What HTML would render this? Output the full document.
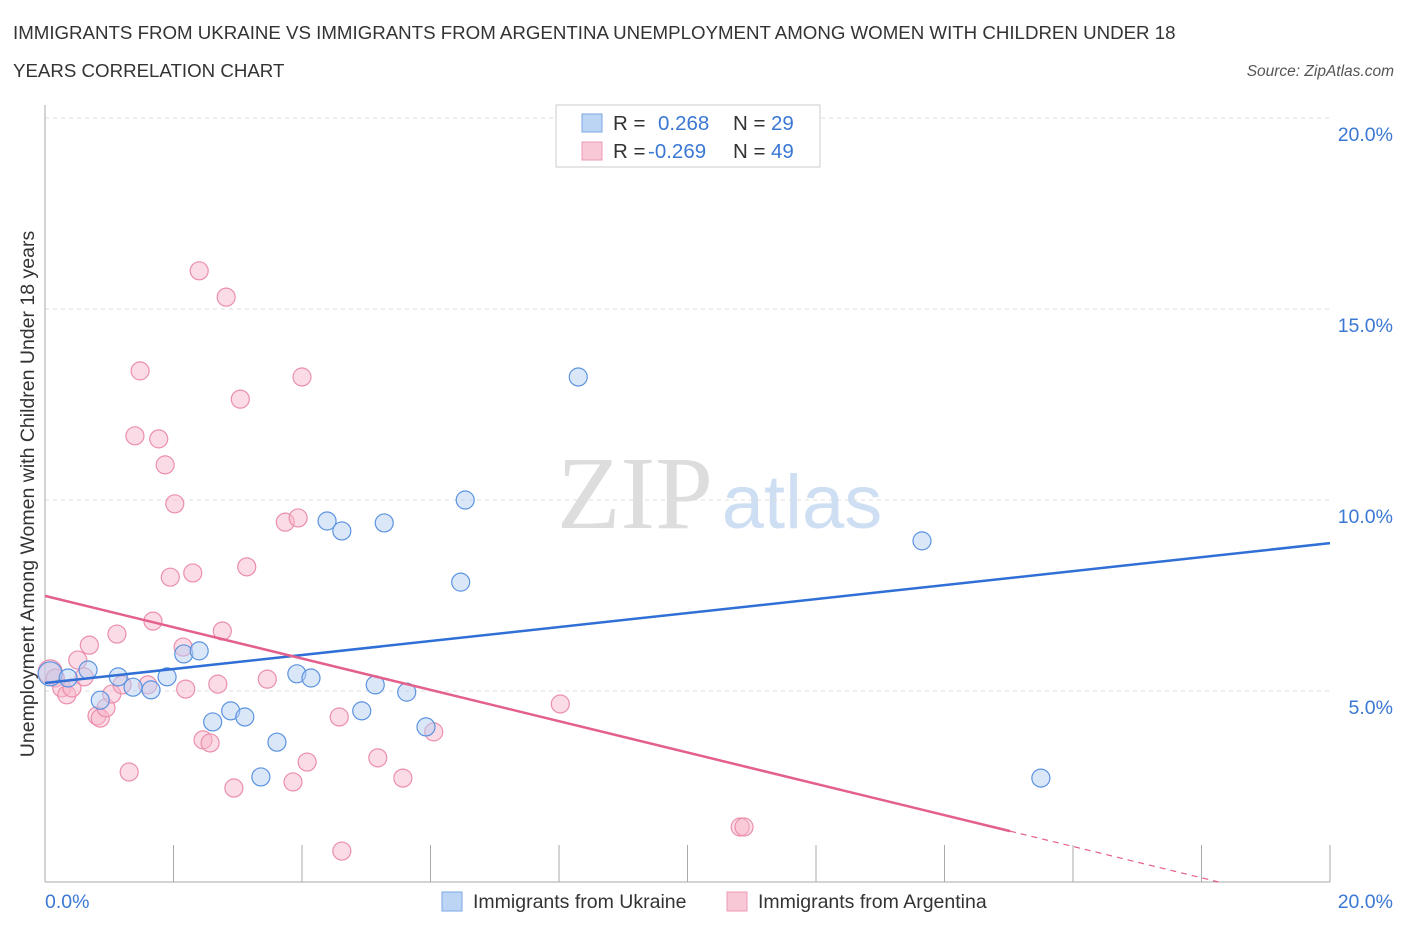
<!DOCTYPE html>
<html><head><meta charset="utf-8"><style>
body{margin:0;background:#fff;font-family:"Liberation Sans",sans-serif;}
</style></head><body>
<svg width="1406" height="930" xmlns="http://www.w3.org/2000/svg" font-family="Liberation Sans, sans-serif">
<text x="13" y="39" font-size="18.7" fill="#333">IMMIGRANTS FROM UKRAINE VS IMMIGRANTS FROM ARGENTINA UNEMPLOYMENT AMONG WOMEN WITH CHILDREN UNDER 18</text>
<text x="13" y="77" font-size="18.7" fill="#333">YEARS CORRELATION CHART</text>
<text x="1394" y="76" font-size="15.5" fill="#555" font-style="italic" text-anchor="end">Source: ZipAtlas.com</text>
<text x="635" y="528" font-size="104" fill="#ddd" font-family="Liberation Serif, serif" text-anchor="middle">ZIP</text>
<text x="802" y="528" font-size="76" fill="#cfdff3" text-anchor="middle">atlas</text>
<g id="grid"></g>
<g id="axes"></g>
<text transform="translate(34,494) rotate(-90)" font-size="19.5" fill="#333" text-anchor="middle">Unemployment Among Women with Children Under 18 years</text>
<text x="45" y="908" font-size="19.5" fill="#3a78d4">0.0%</text>
<text x="1393" y="908" font-size="19.5" fill="#3a78d4" text-anchor="end">20.0%</text>
<g id="points"></g>
<g id="lines"></g>
<g>
<rect x="556" y="105" width="264" height="62" fill="#fff" stroke="#ccc"/>
<rect x="582" y="114" width="20" height="18" fill="#bcd5f5" stroke="#7aa6e3"/>
<rect x="582" y="142" width="20" height="18" fill="#f9c8d6" stroke="#eb9ab2"/>
<text x="613" y="130" font-size="20.5" fill="#333">R =</text><text x="658" y="130" font-size="20.5" fill="#3a78d4">0.268</text>
<text x="733" y="130" font-size="20.5" fill="#333">N =</text><text x="771" y="130" font-size="20.5" fill="#3a78d4">29</text>
<text x="613" y="158" font-size="20.5" fill="#333">R =</text><text x="648" y="158" font-size="20.5" fill="#3a78d4">-0.269</text>
<text x="733" y="158" font-size="20.5" fill="#333">N =</text><text x="771" y="158" font-size="20.5" fill="#3a78d4">49</text>
</g>
<g><rect x="442" y="892" width="20" height="19" fill="#bcd5f5" stroke="#7aa6e3"/><text x="473" y="908" font-size="19.5" fill="#333">Immigrants from Ukraine</text></g>
<g><rect x="727" y="892" width="20" height="19" fill="#f9c8d6" stroke="#eb9ab2"/><text x="758" y="908" font-size="19.5" fill="#333">Immigrants from Argentina</text></g>
</svg>
<script>
const yTicks=[5,10,15,20];
const yTickLabels=["5.0%","10.0%","15.0%","20.0%"];
const ukrX=[0.08,0.36,0.67,0.86,1.14,1.37,1.65,1.90,2.16,2.40,2.61,2.89,3.11,3.36,3.61,3.92,4.14,4.39,4.62,4.93,5.14,5.28,5.63,5.93,6.47,6.54,8.30,13.65,15.50];
const ukrY=[5.45,5.34,5.55,4.76,5.37,5.10,5.03,5.37,5.97,6.05,4.19,4.48,4.32,2.75,3.66,5.45,5.34,9.45,9.19,4.48,5.16,9.40,4.97,4.06,7.85,10.0,13.22,8.93,2.72];
const argX=[0.08,0.16,0.26,0.34,0.42,0.51,0.61,0.69,0.81,0.86,0.95,1.04,1.12,1.20,1.31,1.40,1.48,1.60,1.68,1.77,1.87,1.95,2.02,2.15,2.19,2.30,2.40,2.46,2.57,2.69,2.76,2.82,2.94,3.04,3.14,3.46,3.74,3.86,3.94,4.00,4.08,4.58,4.62,5.18,5.57,6.05,8.02,10.82,10.88];
const argY=[5.50,5.34,5.08,4.90,5.08,5.81,5.37,6.20,4.35,4.29,4.56,4.92,6.49,5.16,2.88,11.68,13.38,5.16,6.83,11.60,10.92,7.98,9.90,6.15,5.05,8.09,16.0,3.72,3.64,5.18,6.57,15.31,2.46,12.64,8.25,5.31,9.42,2.62,9.53,13.22,3.14,4.32,0.81,3.25,2.72,3.93,4.66,1.44,1.44];
const ukrTrend=[5.21,8.87];
const argTrend=[7.49,-0.41];
const NS="http://www.w3.org/2000/svg";
const X=v=>45+v/20*1285, Y=v=>882-v*38.2;
function mk(tag,attrs,parent){const e=document.createElementNS(NS,tag);for(const k in attrs)e.setAttribute(k,attrs[k]);document.getElementById(parent).appendChild(e);return e;}
yTicks.forEach((t,i)=>{
 const g=mk('line',{x1:45,x2:1330,y1:Y(t),y2:Y(t),stroke:'#ddd','stroke-dasharray':'4,4'},'grid');
 
 
 const l=mk('text',{x:1393,y:Y(t)+23,'font-size':19.5,fill:'#3a78d4','text-anchor':'end'},'grid');
 l.textContent=yTickLabels[i];
 
 
});
let ax=mk('line',{x1:45,x2:45,y1:105,y2:882,stroke:'#aaa'},'axes');


ax=mk('line',{x1:45,x2:1330,y1:882,y2:882,stroke:'#aaa'},'axes');


for(let i=1;i<=10;i++){const t=mk('line',{x1:X(i*2),x2:X(i*2),y1:845,y2:882,stroke:'#aaa'},'axes');
 
 }
function pts(xs,ys,fill,stroke,name){xs.forEach((x,i)=>{
 const r=i===0?12:9;
 const c=mk('circle',{cx:X(x),cy:Y(ys[i]),r:r,fill:fill,'fill-opacity':0.5,stroke:stroke,'stroke-width':1.2},'points');
 
 });}
pts(argX,argY,'#f7b8cb','#eb8fab','point-argentina');
pts(ukrX,ukrY,'#b5d0f3','#5b93e0','point-ukraine');
let ln=mk('line',{x1:X(0),y1:Y(ukrTrend[0]),x2:X(20),y2:Y(ukrTrend[1]),stroke:'#2f6fd6','stroke-width':2.5},'lines');


const xe=15.02, x0=-argTrend[0]/argTrend[1];
ln=mk('line',{x1:X(0),y1:Y(argTrend[0]),x2:X(xe),y2:Y(argTrend[0]+argTrend[1]*xe),stroke:'#e4608c','stroke-width':2.5},'lines');


ln=mk('line',{x1:X(xe),y1:Y(argTrend[0]+argTrend[1]*xe),x2:X(x0),y2:Y(0),stroke:'#e4608c','stroke-width':1.2,'stroke-dasharray':'6,5'},'lines');


</script>
</body></html>
